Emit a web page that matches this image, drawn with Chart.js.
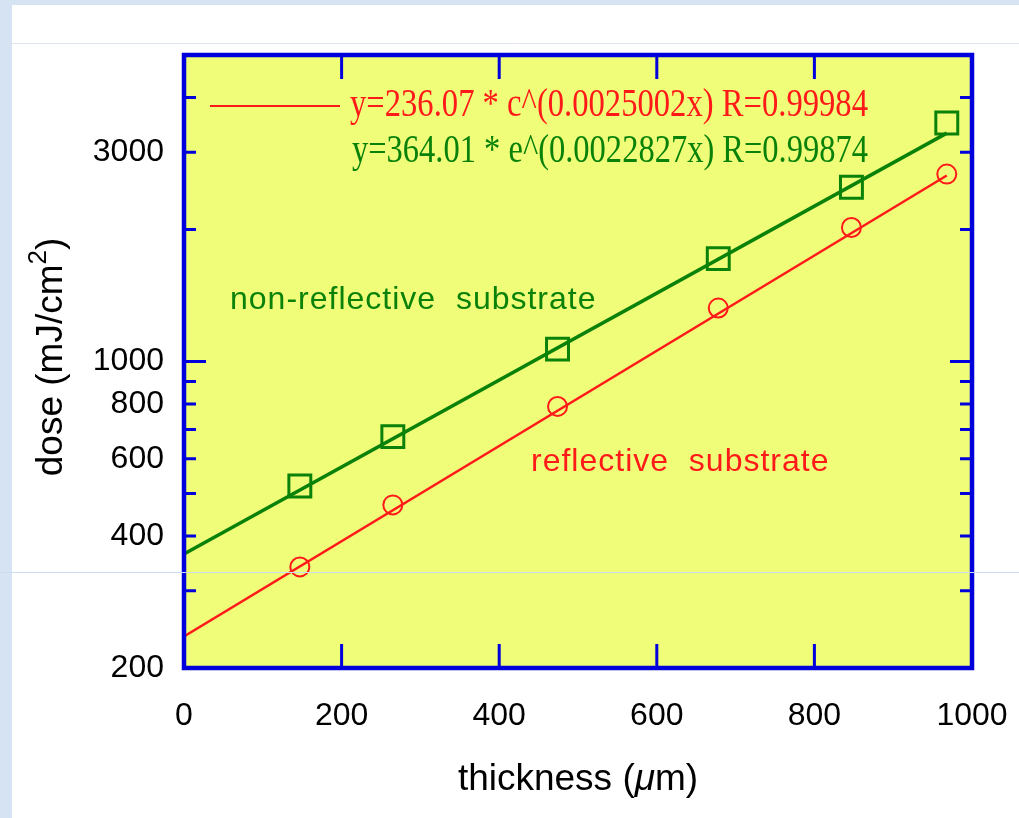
<!DOCTYPE html>
<html>
<head>
<meta charset="utf-8">
<script src="https://cdn.jsdelivr.net/npm/chart.js@4"></script>
<style>
  html, body { margin: 0; padding: 0; background: #d6e3f2; }
  canvas { display: block; }
</style>
</head>
<body>
<canvas id="doseChart" width="1019" height="818"></canvas>
<script>
// thickness (um) of the measured films
const thickness = [147, 265, 474, 678, 847, 968];
// dose (mJ/cm2)
const reflectiveDose = [340, 471, 790, 1324, 2021, 2675];
const nonReflectiveDose = [520, 674, 1067, 1716, 2497, 3500];
// fitted lines, end points only (straight on a log axis)
const fitThickness = [0, 968];
const reflectiveFit = [236, 2656];
const nonReflectiveFit = [364, 3317];

const xTicks = [0, 200, 400, 600, 800, 1000];
const yTicks = [200, 300, 400, 500, 600, 700, 800, 900, 1000, 2000, 3000, 4000, 5000];
const yLabels = [200, 400, 600, 800, 1000, 3000];

const RED = "#ff1a1a";
const GREEN = "#0a820a";
const BLUE = "#0000dc";
const SANS = "'Liberation Sans', Arial, sans-serif";

function pts(xs, ys) {
    return xs.map((x, i) => ({ x: x, y: ys[i] }));
}

// background, yellow plot area, box, inner ticks and text
const decorPlugin = {
    id: "decor",
    beforeDraw(chart) {
        const ctx = chart.ctx;
        const a = chart.chartArea;
        ctx.save();
        ctx.fillStyle = "#d6e3f2";
        ctx.fillRect(0, 0, chart.width, chart.height);
        ctx.fillStyle = "#ffffff";
        ctx.fillRect(12, 5, chart.width - 12, chart.height - 5);
        ctx.strokeStyle = "#dfe6ee";
        ctx.lineWidth = 1;
        ctx.beginPath();
        ctx.moveTo(12, 43.5);
        ctx.lineTo(chart.width, 43.5);
        ctx.stroke();
        ctx.fillStyle = "#f0fd78";
        ctx.fillRect(a.left, a.top, a.right - a.left, a.bottom - a.top);
        ctx.restore();
    },
    afterDatasetsDraw(chart) {
        const ctx = chart.ctx;
        const a = chart.chartArea;
        const xs = chart.scales.x;
        const ys = chart.scales.y;
        ctx.save();
        ctx.strokeStyle = BLUE;
        ctx.lineWidth = 3;
        ctx.beginPath();
        yTicks.forEach(v => {
            const y = ys.getPixelForValue(v);
            const len = v === 1000 ? 22 : 12;
            ctx.moveTo(a.left, y); ctx.lineTo(a.left + len, y);
            ctx.moveTo(a.right, y); ctx.lineTo(a.right - len, y);
        });
        xTicks.slice(1, -1).forEach(v => {
            const x = xs.getPixelForValue(v);
            ctx.moveTo(x, a.bottom); ctx.lineTo(x, a.bottom - 24);
            ctx.moveTo(x, a.top); ctx.lineTo(x, a.top + 24);
        });
        ctx.stroke();
        ctx.lineWidth = 4.5;
        ctx.strokeRect(a.left, a.top, a.right - a.left, a.bottom - a.top);

        // legend inside the plot
        ctx.strokeStyle = RED;
        ctx.lineWidth = 2;
        ctx.beginPath();
        ctx.moveTo(210, 106);
        ctx.lineTo(340, 106);
        ctx.stroke();
        ctx.font = "40px 'Liberation Serif', serif";
        ctx.textBaseline = "middle";
        ctx.fillStyle = RED;
        ctx.fillText("y=236.07 * c^(0.0025002x) R=0.99984", 350, 105, 518);
        ctx.fillStyle = GREEN;
        ctx.fillText("y=364.01 * e^(0.0022827x) R=0.99874", 352, 151, 516);

        ctx.font = "32px " + SANS;
        ctx.letterSpacing = "1px";
        ctx.fillStyle = GREEN;
        ctx.fillText("non-reflective  substrate", 230, 300);
        ctx.fillStyle = RED;
        ctx.fillText("reflective  substrate", 531, 462);
        ctx.restore();
    },
    afterDraw(chart) {
        const ctx = chart.ctx;
        ctx.save();
        ctx.fillStyle = "#000000";
        ctx.textBaseline = "middle";
        // x axis title with italic mu
        const f = "37px " + SANS;
        const fi = "italic 37px " + SANS;
        const parts = [["thickness (", f], ["\u03bc", fi], ["m)", f]];
        let total = 0;
        parts.forEach(p => { ctx.font = p[1]; total += ctx.measureText(p[0]).width; });
        let x = 578 - total / 2;
        parts.forEach(p => {
            ctx.font = p[1];
            ctx.fillText(p[0], x, 780);
            x += ctx.measureText(p[0]).width;
        });
        // y axis title with superscript 2
        ctx.translate(52, 357);
        ctx.rotate(-Math.PI / 2);
        const fs = "26px " + SANS;
        const s1 = "dose (mJ/cm", s2 = "2", s3 = ")";
        ctx.font = f;
        const w1 = ctx.measureText(s1).width, w3 = ctx.measureText(s3).width;
        ctx.font = fs;
        const w2 = ctx.measureText(s2).width;
        let tx = -(w1 + w2 + w3) / 2;
        ctx.font = f;
        ctx.fillText(s1, tx, 0);
        tx += w1;
        ctx.font = fs;
        ctx.fillText(s2, tx, -13);
        tx += w2;
        ctx.font = f;
        ctx.fillText(s3, tx, 0);
        ctx.setTransform(1, 0, 0, 1, 0, 0);
        // faint scan line across the page
        ctx.strokeStyle = "#c9dcf0";
        ctx.lineWidth = 1;
        ctx.beginPath();
        ctx.moveTo(0, 572.5);
        ctx.lineTo(chart.width, 572.5);
        ctx.stroke();
        ctx.restore();
    }
};

const ctx = document.getElementById("doseChart").getContext("2d");
const doseChart = new Chart(ctx, {
    type: "scatter",
    data: {
        datasets: [
            {
                label: "reflective fit",
                data: pts(fitThickness, reflectiveFit),
                showLine: true,
                borderColor: RED,
                borderWidth: 2.5,
                pointRadius: 0
            },
            {
                label: "non-reflective fit",
                data: pts(fitThickness, nonReflectiveFit),
                showLine: true,
                borderColor: GREEN,
                borderWidth: 3.5,
                pointRadius: 0
            },
            {
                label: "reflective substrate",
                data: pts(thickness, reflectiveDose),
                pointStyle: "circle",
                pointRadius: 9.5,
                borderWidth: 2,
                borderColor: RED,
                backgroundColor: "rgba(0,0,0,0)"
            },
            {
                label: "non-reflective substrate",
                data: pts(thickness, nonReflectiveDose),
                pointStyle: "rect",
                pointRadius: 15.5,
                borderWidth: 3,
                borderColor: GREEN,
                backgroundColor: "rgba(0,0,0,0)"
            }
        ]
    },
    options: {
        responsive: false,
        animation: false,
        layout: { padding: { top: 55, right: 47, left: 0, bottom: 0 } },
        plugins: {
            legend: { display: false },
            tooltip: { enabled: false }
        },
        scales: {
            x: {
                type: "linear",
                min: 0,
                max: 1000,
                afterBuildTicks: s => { s.ticks = xTicks.map(v => ({ value: v })); },
                afterFit: s => { s.height = 150; s.paddingLeft = 0; s.paddingRight = 0; },
                grid: { display: false },
                border: { display: false },
                ticks: {
                    color: "#000",
                    padding: 21,
                    maxRotation: 0,
                    callback: v => String(v),
                    font: { family: SANS, size: 32 }
                }
            },
            y: {
                type: "logarithmic",
                min: 200,
                max: 5000,
                afterBuildTicks: s => { s.ticks = yTicks.map(v => ({ value: v })); },
                afterFit: s => { s.width = 184; s.paddingTop = 0; s.paddingBottom = 0; },
                grid: { display: false },
                border: { display: false },
                ticks: {
                    color: "#000",
                    padding: 12,
                    autoSkip: false,
                    callback: v => yLabels.includes(v) ? String(v) : "",
                    font: { family: SANS, size: 32 }
                }
            }
        }
    },
    plugins: [decorPlugin]
});
</script>
</body>
</html>
